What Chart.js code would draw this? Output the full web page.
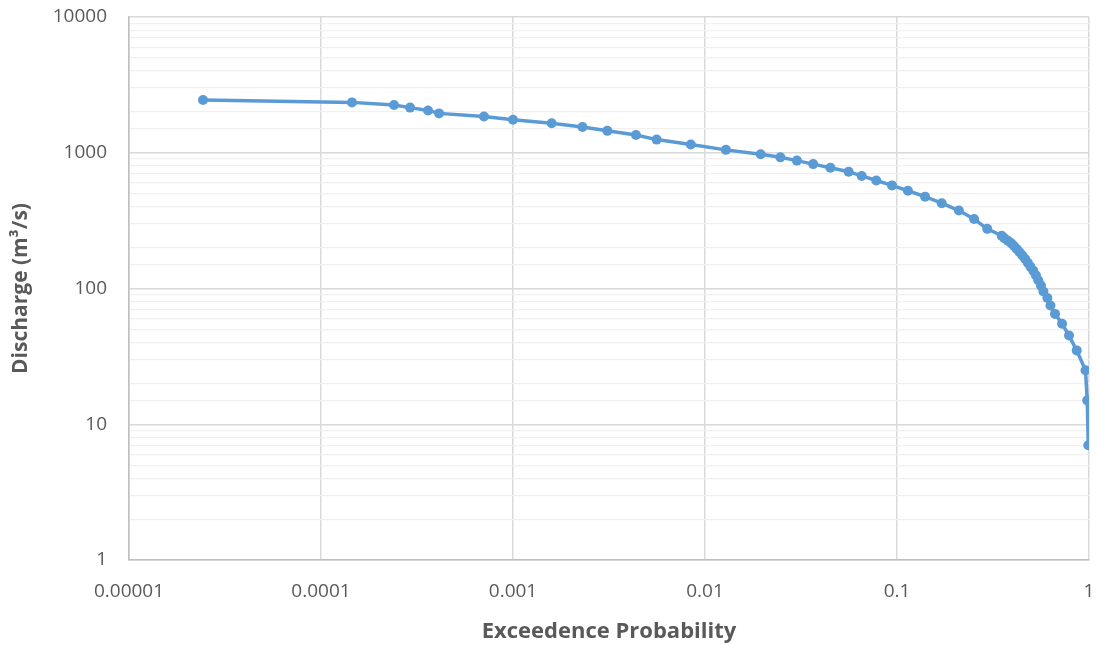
<!DOCTYPE html>
<html>
<head>
<meta charset="utf-8">
<script src="https://cdn.jsdelivr.net/npm/chart.js@4/dist/chart.umd.min.js"></script>
<style>
  html, body { margin: 0; padding: 0; background: #ffffff; }
  #wrap { width: 1096px; height: 645px; }
</style>
</head>
<body>
<div id="wrap"><canvas id="flowCurve" width="1096" height="645"></canvas></div>
<script>
// exceedence probability of each discharge class
var exceedence = [
    0.0000243, 0.000145, 0.00024, 0.000291, 0.000361, 0.000412, 0.000706, 0.001,
    0.00159, 0.0023, 0.0031, 0.00437, 0.0056, 0.00843, 0.01285,
    0.0195, 0.0247, 0.0301, 0.0366, 0.045, 0.056, 0.0655, 0.078, 0.0942, 0.114,
    0.14, 0.171, 0.21, 0.252, 0.295,
    0.351, 0.362, 0.378, 0.394, 0.408, 0.421, 0.435, 0.45, 0.465, 0.48,
    0.495, 0.513, 0.529, 0.544, 0.562,
    0.579, 0.607, 0.63, 0.665, 0.724, 0.787, 0.863, 0.959, 0.979, 0.991
];
// discharge (m3/s)
var discharge = [
    2450, 2350, 2250, 2150, 2050, 1950, 1850, 1750,
    1650, 1550, 1450, 1350, 1250, 1150, 1050,
    975, 925, 875, 825, 775, 725, 675, 625, 575, 525,
    475, 425, 375, 325, 275,
    245, 235, 225, 215, 205, 195, 185, 175, 165, 155,
    145, 135, 125, 115, 105,
    95, 85, 75, 65, 55, 45, 35, 25, 15, 7
];
var xTickLabels = ['0.00001', '0.0001', '0.001', '0.01', '0.1', '1'];
var yTickLabels = ['1', '10', '100', '1000', '10000'];

var points = [];
for (var i = 0; i < exceedence.length; i++) {
    points.push({x: exceedence[i], y: discharge[i]});
}

function isDecade(v) {
    var l = Math.log10(v);
    return Math.abs(l - Math.round(l)) < 1e-6;
}

var ctx = document.getElementById('flowCurve').getContext('2d');
var myChart = new Chart(ctx, {
    type: 'line',
    data: {
        datasets: [{
            label: 'Discharge',
            data: points,
            borderColor: '#5B9BD5',
            backgroundColor: '#5B9BD5',
            borderWidth: 3.5,
            pointRadius: 5,
            pointBorderWidth: 0,
            pointHoverRadius: 5,
            tension: 0,
            fill: false
        }]
    },
    options: {
        responsive: false,
        animation: false,
        layout: {
            padding: {top: 17, right: 7, bottom: 0, left: 0}
        },
        plugins: {
            legend: {display: false},
            tooltip: {enabled: false}
        },
        scales: {
            x: {
                type: 'logarithmic',
                min: 0.00001,
                max: 1,
                border: {color: '#BFBFBF', width: 1.5},
                grid: {
                    drawTicks: false,
                    lineWidth: 1.5,
                    color: function(c) {
                        return (c.tick && isDecade(c.tick.value)) ? '#D9D9D9' : 'rgba(0,0,0,0)';
                    }
                },
                ticks: {
                    autoSkip: false,
                    maxRotation: 0,
                    padding: 20,
                    color: '#595959',
                    font: {family: 'Open Sans', size: 19},
                    callback: function(v) {
                        if (!isDecade(v)) return '';
                        return xTickLabels[Math.round(Math.log10(v)) + 5];
                    }
                },
                title: {
                    display: true,
                    text: 'Exceedence Probability',
                    color: '#595959',
                    font: {family: 'Open Sans', size: 22, weight: 'bold'},
                    padding: {top: 7, bottom: 0}
                },
                afterFit: function(scale) {
                    scale.height = 85;
                    scale.paddingLeft = 0;
                    scale.paddingRight = 0;
                }
            },
            y: {
                type: 'logarithmic',
                min: 1,
                max: 10000,
                border: {color: '#BFBFBF', width: 1.5},
                grid: {
                    drawTicks: false,
                    lineWidth: function(c) {
                        return (c.tick && isDecade(c.tick.value)) ? 1.5 : 1.2;
                    },
                    color: function(c) {
                        return (c.tick && isDecade(c.tick.value)) ? '#D9D9D9' : '#F0F0F0';
                    }
                },
                ticks: {
                    autoSkip: false,
                    padding: 22,
                    color: '#595959',
                    font: {family: 'Open Sans', size: 19},
                    callback: function(v) {
                        if (!isDecade(v)) return '';
                        return yTickLabels[Math.round(Math.log10(v))];
                    }
                },
                title: {
                    display: true,
                    text: 'Discharge (m³/s)',
                    color: '#595959',
                    font: {family: 'Open Sans', size: 21, weight: 'bold'},
                    padding: {top: 8, bottom: 0}
                },
                afterFit: function(scale) {
                    scale.width = 129;
                    scale.paddingTop = 0;
                    scale.paddingBottom = 0;
                }
            }
        }
    }
});
</script>
</body>
</html>
